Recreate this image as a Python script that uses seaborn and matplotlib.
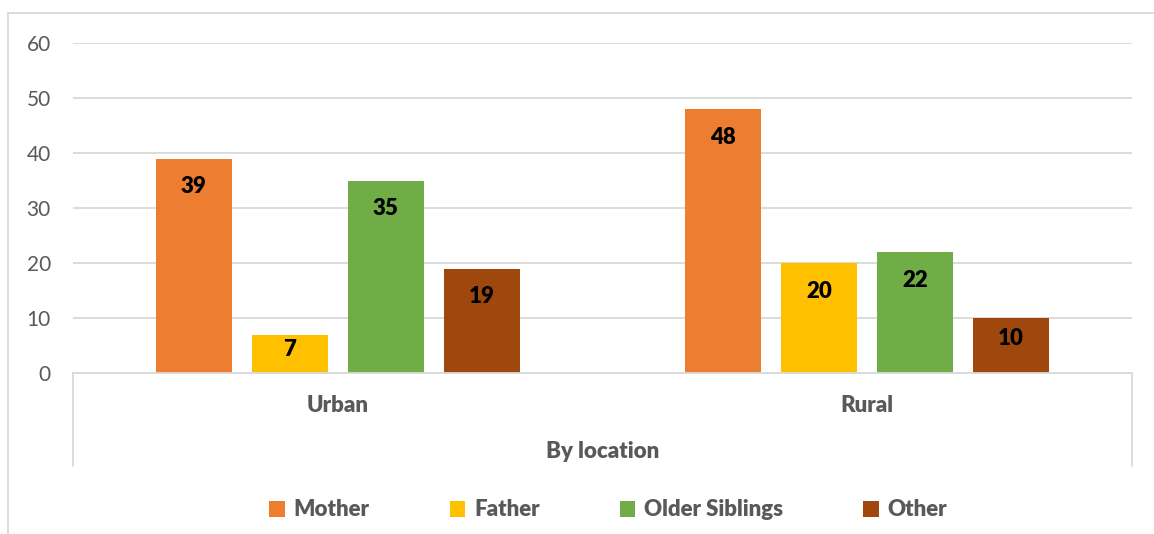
import matplotlib
matplotlib.use("Agg")
from matplotlib import pyplot as plt
from matplotlib.patches import Rectangle, Patch
import numpy as np
import pandas as pd
import seaborn as sns

# data
locations = ["Urban", "Rural"]
carers = ["Mother", "Father", "Older Siblings", "Other"]
urban_vals = [39, 7, 35, 19]
rural_vals = [48, 20, 22, 10]
colors = ["#ED7D31", "#FFC000", "#70AD47", "#9E480E"]
yticks = [0, 10, 20, 30, 40, 50, 60]
group_label = "By location"

df = pd.DataFrame({
    "location": np.repeat(locations, len(carers)),
    "carer": carers * len(locations),
    "value": urban_vals + rural_vals,
})

sns.set_theme(style="white")
plt.rcParams["font.family"] = ["Lato", "DejaVu Sans"]
GRAY = "#595959"
LINE = "#D9D9D9"
BOLD = 16

fig = plt.figure(figsize=(11.54, 5.34), dpi=100)
ax = fig.add_axes([73 / 1154, 1 - 373 / 534, (1132 - 73) / 1154, 330 / 534])

sns.barplot(data=df, x="location", y="value", hue="carer", order=locations,
            hue_order=carers, palette=colors, saturation=1, width=0.725,
            gap=0.21, legend=False, ax=ax, edgecolor="none")

ax.set_xlim(-0.5, 1.5)
ax.set_ylim(0, 60)
ax.set_yticks(yticks)
ax.yaxis.grid(True, color=LINE, linewidth=1.3)
ax.set_axisbelow(True)
for s in ["top", "left", "right"]:
    ax.spines[s].set_visible(False)
ax.spines["bottom"].set_color(LINE)
ax.spines["bottom"].set_linewidth(1.3)
ax.tick_params(axis="y", length=0, pad=16, labelsize=15, labelcolor=GRAY)
ax.tick_params(axis="x", length=0, pad=16, labelsize=BOLD, labelcolor=GRAY)
for t in ax.get_xticklabels():
    t.set_fontweight("heavy")
ax.set_xlabel("")
ax.set_ylabel("")

# data labels inside the bar tops
for cont in ax.containers:
    for rect in cont:
        v = rect.get_height()
        x = rect.get_x() + rect.get_width() / 2
        y = max(v - 5.1, v * 0.62)
        ax.text(x, y, f"{v:.0f}", ha="center", va="center", fontsize=BOLD,
                fontweight="heavy", color="black")

# multi-level category axis lines and group label
for xa in [0, 1]:
    ax.plot([xa, xa], [0, -93 / 330], transform=ax.transAxes, color=LINE,
            lw=1.3, clip_on=False)
ax.text(0.5, -78 / 330, group_label, transform=ax.transAxes, ha="center",
        va="center", fontsize=BOLD, fontweight="heavy", color=GRAY)

# legend
handles = [Patch(facecolor=c, edgecolor="none") for c in colors]
fig.legend(handles, carers, loc="center", bbox_to_anchor=(0.527, 1 - 510 / 534),
           ncol=4, frameon=False, handlelength=0.7, handleheight=0.7,
           handletextpad=0.4, columnspacing=3.6,
           prop={"size": BOLD, "weight": "heavy"}, labelcolor=GRAY)

# outer chart border
fig.patches.append(Rectangle((8 / 1154, -0.1), 1.2, 1.1 - 13 / 534,
                             transform=fig.transFigure, fill=False,
                             edgecolor=LINE, lw=1.3))

fig.savefig("out.png", dpi=100)
